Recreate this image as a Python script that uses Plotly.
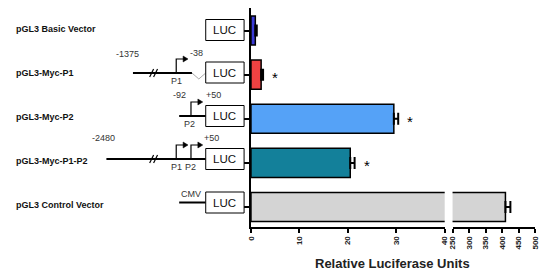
"""Relative luciferase activity of pGL3 Myc promoter constructs (broken x axis)."""

import plotly.graph_objects as go

# ---- Data ---------------------------------------------------------------

constructs = ["pGL3 Basic Vector", "pGL3-Myc-P1", "pGL3-Myc-P2",
              "pGL3-Myc-P1-P2", "pGL3 Control Vector"]
rlu = [0.9, 2.1, 29.5, 20.5, 410]
rlu_err = [0.3, 0.4, 0.9, 0.9, 15]
bar_colors = ["#3b3bd6", "#f04242", "#55a2f7", "#13809a", "#d4d4d4"]
significant = [False, True, True, True, False]

low_ticks = [0, 10, 20, 30, 40]
high_ticks = [250, 300, 350, 400, 450, 500]

# page body has an 8px margin, so the figure is drawn 8px in from the corner
OFF = 8
W, H = 550 - OFF, 277 - OFF
ARIAL = "Liberation Sans, Arial"


def px(x):
    return (x - OFF) / W


def py(y):
    return 1 - (y - OFF) / H


def path(points, close=False):
    s = "M " + " L ".join(f"{px(x):.5f},{py(y):.5f}" for x, y in points)
    return s + (" Z" if close else "")


rows = list(range(len(constructs)))
low_idx = [i for i in rows if rlu[i] <= low_ticks[-1]]
high_idx = [i for i in rows if rlu[i] > low_ticks[-1]]

fig = go.Figure()

# bars fitting the low segment
fig.add_bar(
    y=low_idx, x=[rlu[i] for i in low_idx], orientation="h",
    width=0.66, xaxis="x", yaxis="y",
    marker=dict(color=[bar_colors[i] for i in low_idx],
                line=dict(color="black", width=1.5)),
    error_x=dict(type="data", symmetric=False,
                 array=[rlu_err[i] for i in low_idx],
                 arrayminus=[0] * len(low_idx),
                 color="black", thickness=2, width=6),
)
# tall bar: clipped part on the low segment, rest on the high segment
fig.add_bar(
    y=high_idx, x=[rlu[i] for i in high_idx], orientation="h",
    width=0.66, xaxis="x", yaxis="y",
    marker=dict(color=[bar_colors[i] for i in high_idx],
                line=dict(color="black", width=1.5)),
)
fig.add_bar(
    y=high_idx, x=[rlu[i] for i in high_idx], orientation="h",
    width=0.66, xaxis="x2", yaxis="y",
    marker=dict(color=[bar_colors[i] for i in high_idx],
                line=dict(color="black", width=1.5)),
    error_x=dict(type="data", symmetric=False,
                 array=[rlu_err[i] for i in high_idx],
                 arrayminus=[0] * len(high_idx),
                 color="black", thickness=2, width=6),
)

axis_common = dict(showline=True, linecolor="black", linewidth=2,
                   ticks="outside", ticklen=4, tickwidth=1.5,
                   tickcolor="black", showgrid=False, zeroline=False,
                   tickangle=-90, anchor="y",
                   tickfont=dict(family=ARIAL, size=8, color="#222", weight="bold"))

fig.update_layout(
    width=W, height=H, margin=dict(l=0, r=0, t=0, b=0),
    paper_bgcolor="white", plot_bgcolor="white",
    showlegend=False, barmode="overlay",
    xaxis=dict(domain=[px(251), px(448)], range=[0, 40],
               tickvals=low_ticks, **axis_common),
    xaxis2=dict(domain=[px(456), px(540)], range=[250, 500],
                tickvals=high_ticks, **axis_common),
    # y domain from pixel 227 (bottom) to 8 (top); rows 0..4 at 30.5 .. 207
    yaxis=dict(domain=[py(227), py(8)], range=[4.453, -0.51],
               tickvals=rows, ticktext=[""] * len(rows),
               showline=True, linecolor="black", linewidth=2,
               ticks="outside", ticklen=7, tickwidth=1.5, tickcolor="black",
               showgrid=False, zeroline=False, anchor="x"),
)

# significance stars
for i in rows:
    if significant[i]:
        fig.add_annotation(x=rlu[i] + rlu_err[i] + 2.5, y=i, xref="x", yref="y",
                           text="*", showarrow=False, yshift=-3,
                           xanchor="center", yanchor="middle",
                           font=dict(family=ARIAL, size=15, color="black"))

# row labels
for i, name in enumerate(constructs):
    fig.add_annotation(x=px(10), y=i, xref="paper", yref="y", text=f"<b>{name}</b>",
                       xanchor="left", yanchor="middle", showarrow=False, yshift=2,
                       font=dict(family=ARIAL, size=9, color="#111"))

fig.add_annotation(x=px(395), y=py(263), xref="paper", yref="paper",
                   text="<b>Relative Luciferase Units</b>", showarrow=False,
                   xanchor="center", yanchor="middle",
                   font=dict(family=ARIAL, size=13, color="#222"))

# ---- construct diagrams --------------------------------------------------

shapes = []


def line(points, width=2, color="black"):
    shapes.append(dict(type="path", path=path(points), xref="paper", yref="paper",
                       line=dict(color=color, width=width)))


def luc_box(yc):
    shapes.append(dict(type="rect", xref="paper", yref="paper",
                       x0=px(205), x1=px(244), y0=py(yc - 10.5), y1=py(yc + 10.5),
                       fillcolor="white", line=dict(color="black", width=1)))
    fig.add_annotation(x=px(224.5), y=py(yc), xref="paper", yref="paper", text="LUC",
                       showarrow=False, xanchor="center", yanchor="middle",
                       font=dict(family=ARIAL, size=11.5, color="#111"))


def promoter(x, yc, tip):
    line([(x, yc), (x, yc - 14), (tip - 3, yc - 14)], width=1.2)
    shapes.append(dict(type="path", xref="paper", yref="paper",
                       path=path([(tip - 5, yc - 17), (tip, yc - 14), (tip - 5, yc - 11)], True),
                       fillcolor="black", line=dict(color="black", width=0.5)))


def brk(x, yc):
    for dx in (0, 4):
        line([(x + dx - 2, yc + 4), (x + dx + 2, yc - 4)], width=1.2)


def label(x, y, text, size=9):
    fig.add_annotation(x=px(x), y=py(y), xref="paper", yref="paper", text=text,
                       showarrow=False, xanchor="center", yanchor="middle",
                       font=dict(family=ARIAL, size=size, color="#333"))


# Basic vector
luc_box(30)

# P1
yc = 73
line([(131, yc), (191, yc)])
brk(150, yc)
promoter(175, yc, 187)
line([(191, yc), (198, yc + 6), (205, yc)], width=1, color="#aaaaaa")
luc_box(72.5)
label(125, 54, "-1375")
label(196, 53, "-38")
label(175, 81, "P1")

# P2
yc = 116
line([(178, yc), (205, yc)])
promoter(190, yc, 202)
luc_box(116)
label(178, 95, "-92")
label(213, 95, "+50")
label(189, 124, "P2")

# P1-P2
yc = 159
line([(104, yc), (205, yc)])
brk(150, yc)
promoter(175, yc, 187)
promoter(190, yc, 202)
luc_box(159)
label(101, 138, "-2480")
label(211, 138, "+50")
label(175, 167, "P1")
label(190, 167, "P2")

# Control
yc = 202.5
line([(178, yc), (205, yc)])
luc_box(202.5)
label(190, 194, "CMV")

fig.update_layout(shapes=shapes)

fig.write_html("out.html")
